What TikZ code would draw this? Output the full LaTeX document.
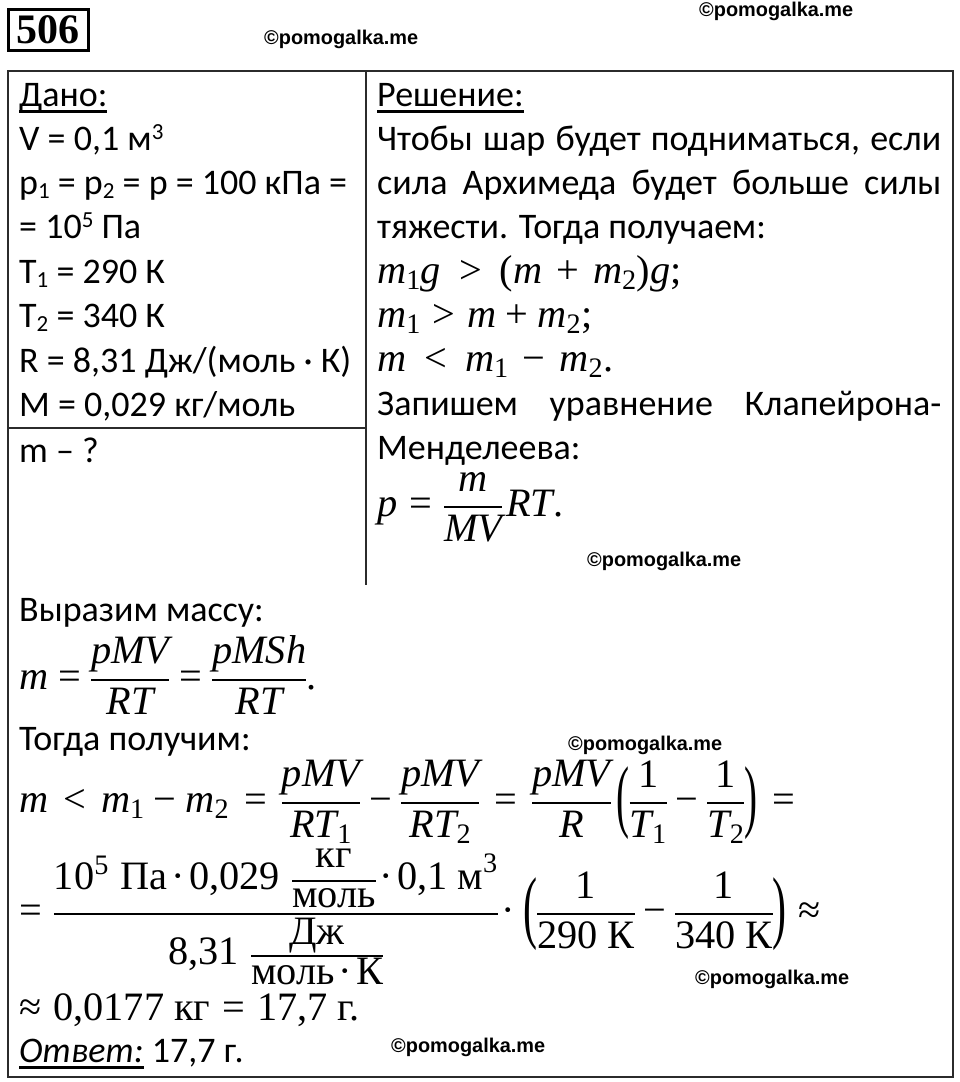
\RequirePackage{fix-cm}
\documentclass[tikz,border=0pt]{standalone}
\usepackage{amsmath}
\usepackage{graphicx}
\usepackage[no-math]{fontspec}
\usepackage{tikz}
\setmainfont{Carlito}
\newfontfamily\mrm[NFSSFamily=mrmfam,Scale=1.12]{Liberation Serif}
\newfontfamily\wmfont{Liberation Sans}
\newfontfamily\numfont{Liberation Serif}
\definecolor{frame-c}{HTML}{2b2b2b}
\DeclareSymbolFont{librm}{TU}{mrmfam}{m}{n}
\DeclareSymbolFont{libit}{TU}{mrmfam}{m}{it}
\newcommand{\setlet}[1]{\Umathcode`#1=0 \symlibit `#1\relax}
\newcommand{\setop}[2]{\Umathcode`#2=#1 \symlibrm `#2\relax}
\setlet m \setlet g \setlet p \setlet M \setlet V \setlet R \setlet T \setlet S \setlet h
\setop 00 \setop 01 \setop 02 \setop 03 \setop 04 \setop 05 \setop 06 \setop 07 \setop 08 \setop 09
\setop 2+ \setop 3= \setop 3< \setop 3> \setop 4( \setop 5) \setop 6; \setop 0.
\Umathcode`-=2 \symlibrm "2212\relax
\Umathchardef\mdot=2 \symlibrm "00B7\relax
\Umathchardef\mapprox=3 \symlibrm "2248\relax
\nulldelimiterspace=0pt
\thickmuskip=6mu
\medmuskip=4.5mu
\newcommand{\rt}[1]{\text{\mrm #1}}
\newcommand{\fr}[2]{\genfrac{}{}{2.2pt}{0}{#1}{#2}}
\newcommand{\tfr}[4]{\fr{\smash{\raisebox{#3}{$\displaystyle #1$}}}{\smash{\raisebox{#4}{$\displaystyle #2$}}}}
\newcommand{\bpar}[2]{\vcenter{\hbox{\resizebox*{#1}{73pt}{\mrm #2}}}}
\newcommand{\jline}[1]{\hbox to 564pt{#1}}
\newcommand{\ul}[1]{\setbox0\hbox{#1}\rlap{\copy0}\rule[-6.5pt]{\wd0}{2.5pt}}
\newcommand{\sps}[1]{\raisebox{11pt}{\fontsize{23}{23}\selectfont #1}}
\newcommand{\sbs}[1]{\raisebox{-4pt}{\fontsize{23}{23}\selectfont #1}}
\tikzset{
  txt/.style={anchor=base west,inner sep=0pt,font=\fontsize{36}{44}\selectfont},
  wm/.style={anchor=base west,inner sep=0pt,font=\fontsize{19.9}{22}\selectfont\wmfont\bfseries},
  rule/.style={frame-c,line width=2pt}
}

\begin{document}
\begin{tikzpicture}[x=1pt,y=-1pt]
\useasboundingbox (0,0) rectangle (960,1082);
\draw[rule] (8,71) rectangle (953,1077);
\draw[rule] (365.5,71) -- (365.5,585);
\draw[rule] (8,428) -- (365.5,428);
\path
(48,29.5) node[draw=black,line width=3pt,minimum width=80pt,minimum height=41pt,inner sep=0pt,
  font=\fontsize{42}{44}\selectfont\numfont\bfseries] (num) {506}
% watermarks
(264,44)   node[wm] (wm1) {©pomogalka.me}
(699,16)   node[wm] (wm2) {©pomogalka.me}
(587,566)  node[wm] (wm3) {©pomogalka.me}
(568,750)  node[wm] (wm4) {©pomogalka.me}
(695,984)  node[wm] (wm5) {©pomogalka.me}
(391,1052) node[wm] (wm6) {©pomogalka.me}
% given
(19,106) node[txt] (dano) {\ul{Дано:}}
(19,150) node[txt] (g1) {V = 0,1 м\sps{3}}
(19,194) node[txt] (g2) {p\sbs{1} = p\sbs{2} = p = 100 кПа =}
(19,238) node[txt] (g3) {= 10\sps{5} Па}
(19,283) node[txt] (g4) {T\sbs{1} = 290 К}
(19,327) node[txt] (g5) {T\sbs{2} = 340 К}
(19,372) node[txt] (g6) {R = 8,31 Дж/(моль · К)}
(19,416) node[txt] (g7) {M = 0,029 кг/моль}
(19,462) node[txt] (find) {m – ?}
% solution
(377,106) node[txt] (sol) {\ul{Решение:}}
(377,150) node[txt] (s1) {\jline{Чтобы\hfill шар\hfill будет\hfill подниматься,\hfill если}}
(377,194) node[txt] (s2) {\jline{сила\hfill Архимеда\hfill будет\hfill больше\hfill силы}}
(377,238) node[txt] (s3) {тяжести. Тогда получаем:}
(377,283) node[txt] (s4) {$\thickmuskip=9mu\medmuskip=7mu m_1g>(m+m_2)g;$}
(377,327) node[txt] (s5) {$m_1>m+m_2;$}
(377,371) node[txt] (s6) {$\thickmuskip=9mu\medmuskip=7mu m<m_1-m_2.$}
(377,415) node[txt] (s7) {\jline{Запишем\hfill уравнение\hfill Клапейрона-}}
(377,459) node[txt] (s8) {Менделеева:}
(377,516) node[txt] (s9) {$p=\fr{m}{MV}\mkern2mu RT.$}
% below the table
(19,621) node[txt] (e1) {Выразим массу:}
(19,689) node[txt] (e2) {$\thickmuskip=5mu m=\fr{pMV}{RT}=\fr{pMSh}{RT}.$}
(19,750) node[txt] (e3) {Тогда получим:}
(19,812) node[txt] (e4) {$\thickmuskip=7.5mu m<m_1-m_2=\fr{pMV}{RT_1}-\fr{pMV}{RT_2}=\fr{pMV}{R}\mkern3mu\bpar{13pt}{(}\fr{1}{T_1}-\fr{1}{T_2}\bpar{13pt}{)}=$}
(19,923) node[txt] (e5) {$\medmuskip=2mu =\tfr{10^5\;\rt{Па}\mdot\rt{0,029}\;\tfr{\rt{кг}}{\rt{моль}}{-2pt}{7pt}\mdot\rt{0,1 м}^3}{\rt{8,31}\;\tfr{\rt{Дж}}{\rt{моль}\mdot\rt{К}}{-4pt}{5pt}}{9pt}{-17pt}\mdot\mkern2mu\bpar{14pt}{(}\fr{1}{\rt{290 К}}\mkern2.5mu-\mkern2.5mu\fr{1}{\rt{340 К}}\bpar{14pt}{)}\mapprox$}
(19,1020) node[txt] (e6) {$\mapprox\rt{0,0177 кг}=\rt{17,7 г.}$}
(19,1062) node[txt] (ans) {\ul{\textit{Ответ:}} 17,7 г.};
\end{tikzpicture}
\end{document}
